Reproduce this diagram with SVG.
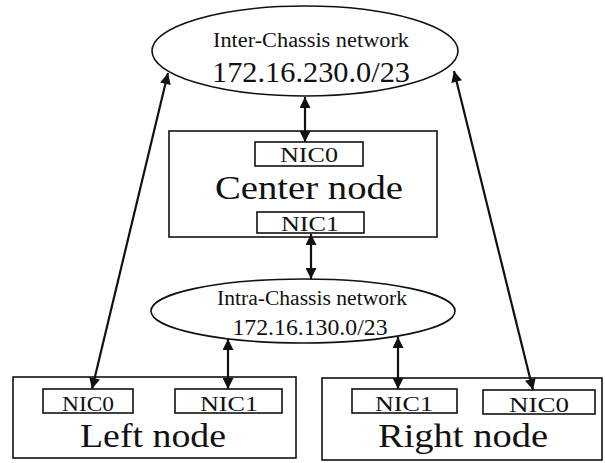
<svg xmlns="http://www.w3.org/2000/svg" width="605" height="463" viewBox="0 0 605 463">
<style>
text{font-family:"Liberation Serif","Times New Roman",serif;fill:#111;text-anchor:middle}
.shape{fill:#fff;stroke:#111;stroke-width:1.6}
.nic{fill:#fff;stroke:#111;stroke-width:1.6}
.conn{stroke:#111;stroke-width:2.2;fill:none;marker-end:url(#ah);marker-start:url(#ahs)}
.t-nic{font-size:21px}
.t-node{font-size:34px}
</style>
<defs>
<marker id="ah" viewBox="0 0 10 10" refX="10" refY="5" markerWidth="5.5" markerHeight="5" orient="auto" markerUnits="strokeWidth">
<path d="M0,0 L10,5 L0,10 z" fill="#111"/>
</marker>
<marker id="ahs" viewBox="0 0 10 10" refX="0" refY="5" markerWidth="5.5" markerHeight="5" orient="auto" markerUnits="strokeWidth">
<path d="M10,0 L0,5 L10,10 z" fill="#111"/>
</marker>
</defs>
<rect width="605" height="463" fill="#fff"/>

<g id="inter-network">
<ellipse class="shape" cx="305" cy="51" rx="153" ry="45"/>
<text x="311" y="47" font-size="20" textLength="196" lengthAdjust="spacingAndGlyphs">Inter-Chassis network</text>
<text x="311" y="82" font-size="30" textLength="198" lengthAdjust="spacingAndGlyphs">172.16.230.0/23</text>
</g>

<g id="center-node">
<rect class="shape" x="169" y="131" width="268" height="106"/>
<rect class="nic" x="255" y="142" width="108" height="24"/>
<text class="t-nic" x="309" y="162" textLength="58" lengthAdjust="spacingAndGlyphs">NIC0</text>
<text class="t-node" x="309" y="199" textLength="188" lengthAdjust="spacingAndGlyphs">Center node</text>
<rect class="nic" x="257" y="212" width="107" height="21"/>
<text class="t-nic" x="310" y="231" textLength="58" lengthAdjust="spacingAndGlyphs">NIC1</text>
</g>

<g id="intra-network">
<ellipse class="shape" cx="303" cy="311" rx="152" ry="32"/>
<text x="312" y="305" font-size="20" textLength="190" lengthAdjust="spacingAndGlyphs">Intra-Chassis network</text>
<text x="310" y="335" font-size="23" textLength="155" lengthAdjust="spacingAndGlyphs">172.16.130.0/23</text>
</g>

<g id="left-node">
<rect class="shape" x="13" y="377" width="283" height="81"/>
<rect class="nic" x="43" y="389" width="90" height="24"/>
<text class="t-nic" x="88" y="411" textLength="52" lengthAdjust="spacingAndGlyphs">NIC0</text>
<rect class="nic" x="175" y="389" width="107" height="24"/>
<text class="t-nic" x="229" y="411" textLength="58" lengthAdjust="spacingAndGlyphs">NIC1</text>
<text class="t-node" x="153" y="447" textLength="146" lengthAdjust="spacingAndGlyphs">Left node</text>
</g>

<g id="right-node">
<rect class="shape" x="322" y="378" width="280" height="82"/>
<rect class="nic" x="352" y="389" width="105" height="24"/>
<text class="t-nic" x="404" y="411" textLength="58" lengthAdjust="spacingAndGlyphs">NIC1</text>
<rect class="nic" x="483" y="390" width="112" height="24"/>
<text class="t-nic" x="539" y="412" textLength="60" lengthAdjust="spacingAndGlyphs">NIC0</text>
<text class="t-node" x="463" y="447" textLength="170" lengthAdjust="spacingAndGlyphs">Right node</text>
</g>

<g id="connectors">
<line class="conn" x1="305" y1="97" x2="305" y2="142"/>
<line class="conn" x1="311" y1="234" x2="311" y2="279"/>
<line class="conn" x1="168" y1="73" x2="92" y2="389"/>
<line class="conn" x1="454" y1="71" x2="533" y2="390"/>
<line class="conn" x1="228" y1="339" x2="228" y2="389"/>
<line class="conn" x1="398" y1="337" x2="398" y2="389"/>
</g>
</svg>
